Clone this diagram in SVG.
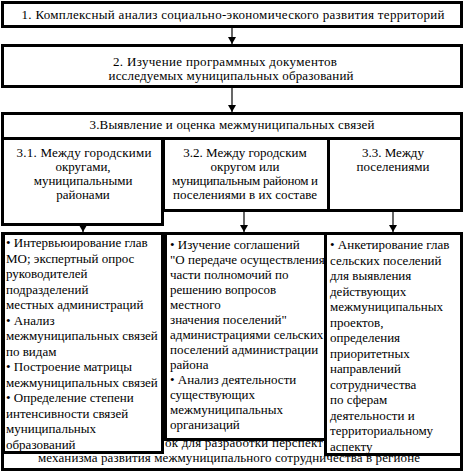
<svg xmlns="http://www.w3.org/2000/svg" width="464" height="473" viewBox="0 0 464 473">
<defs>
<marker id="ah" markerUnits="userSpaceOnUse" markerWidth="8" markerHeight="8" refX="7" refY="4" orient="auto">
<path d="M0,0 L7,4 L0,8 Z" fill="#000"/>
</marker>
<style>
.box{fill:#fff;stroke:#000;stroke-width:3}
.t{font-family:"Times New Roman","Liberation Serif",Tinos,"Noto Serif","DejaVu Serif",serif;font-size:13px;fill:#000}
.c{text-anchor:middle}
.ln{stroke:#000;stroke-width:1.2;fill:none;marker-end:url(#ah)}
</style>
</defs>
<rect width="464" height="473" fill="#fff"/>
<g id="node1">
<rect class="box" x="2.5" y="2.5" width="459" height="24"/>
<text class="t c" x="233" y="19" textLength="423" lengthAdjust="spacing">1. Комплексный анализ социально-экономического развития территорий</text>
</g>

<g id="node2">
<rect class="box" x="2.5" y="45.5" width="459" height="41"/>
<text class="t c" x="225" y="66" textLength="224" lengthAdjust="spacing">2. Изучение программных документов</text>
<text class="t c" x="231" y="80" textLength="245" lengthAdjust="spacing">исследуемых муниципальных образований</text>
</g>

<g id="node3">
<rect class="box" x="2.5" y="113.5" width="459" height="25"/>
<text class="t c" x="232" y="129" textLength="285" lengthAdjust="spacing">3.Выявление и оценка межмуниципальных связей</text>
</g>

<g id="node31">
<rect class="box" x="2.5" y="138.5" width="160" height="86"/>
<text class="t c" x="84" y="157" textLength="135" lengthAdjust="spacing">3.1. Между городскими</text>
<text class="t c" x="83" y="171">округами,</text>
<text class="t c" x="83" y="185">муниципальными</text>
<text class="t c" x="83" y="199">районами</text>
</g>

<g id="node32">
<rect class="box" x="163.5" y="138.5" width="165" height="72"/>
<text class="t c" x="245" y="157">3.2. Между городским</text>
<text class="t c" x="245" y="171">округом или</text>
<text class="t c" x="245" y="185" textLength="146" lengthAdjust="spacing">муниципальным районом и</text>
<text class="t c" x="245" y="199">поселениями в их составе</text>
</g>

<g id="node33">
<rect class="box" x="328.5" y="138.5" width="133" height="72"/>
<text class="t c" x="393" y="157">3.3. Между</text>
<text class="t c" x="393" y="171">поселениями</text>
</g>

<g id="node4">
<rect class="box" x="2.5" y="233.5" width="459" height="236"/>
<text class="t" x="165" y="447" textLength="158" lengthAdjust="spacing">ок для разработки перспект</text>
<text class="t c" x="229" y="462" textLength="382" lengthAdjust="spacing">механизма развития межмуниципального сотрудничества в регионе</text>
</g>

<g id="node41">
<rect class="box" x="3.5" y="233.5" width="159" height="219"/>
<text class="t" x="6" y="247">• Интервьюирование глав</text>
<text class="t" x="6" y="262.5">МО; экспертный опрос</text>
<text class="t" x="6" y="278">руководителей</text>
<text class="t" x="6" y="293.5">подразделений</text>
<text class="t" x="6" y="309">местных администраций</text>
<text class="t" x="6" y="324.5">• Анализ</text>
<text class="t" x="6" y="340">межмуниципальных связей</text>
<text class="t" x="6" y="355.5">по видам</text>
<text class="t" x="6" y="371">• Построение матрицы</text>
<text class="t" x="6" y="386.5">межмуниципальных связей</text>
<text class="t" x="6" y="402">• Определение степени</text>
<text class="t" x="6" y="417.5">интенсивности связей</text>
<text class="t" x="6" y="433">муниципальных</text>
<text class="t" x="6" y="448.5">образований</text>
</g>

<g id="node42">
<rect class="box" x="165.5" y="233.5" width="161" height="206"/>
<text class="t" x="170" y="249">• Изучение соглашений</text>
<text class="t" x="170" y="264">"О передаче осуществления</text>
<text class="t" x="170" y="279">части полномочий по</text>
<text class="t" x="170" y="294">решению вопросов</text>
<text class="t" x="170" y="309">местного</text>
<text class="t" x="170" y="324">значения поселений"</text>
<text class="t" x="170" y="339">администрациями сельских</text>
<text class="t" x="170" y="354">поселений администрации</text>
<text class="t" x="170" y="369">района</text>
<text class="t" x="170" y="384">• Анализ деятельности</text>
<text class="t" x="170" y="399">существующих</text>
<text class="t" x="170" y="414">межмуниципальных</text>
<text class="t" x="170" y="429">организаций</text>
</g>

<g id="node43">
<rect class="box" x="325.5" y="233.5" width="136" height="221"/>
<text class="t" x="330" y="249">• Анкетирование глав</text>
<text class="t" x="330" y="264.5">сельских поселений</text>
<text class="t" x="330" y="280">для выявления</text>
<text class="t" x="330" y="295.5">действующих</text>
<text class="t" x="330" y="311">межмуниципальных</text>
<text class="t" x="330" y="326.5">проектов,</text>
<text class="t" x="330" y="342">определения</text>
<text class="t" x="330" y="357.5">приоритетных</text>
<text class="t" x="330" y="373">направлений</text>
<text class="t" x="330" y="388.5">сотрудничества</text>
<text class="t" x="330" y="404">по сферам</text>
<text class="t" x="330" y="419.5">деятельности и</text>
<text class="t" x="330" y="435">территориальному</text>
<text class="t" x="330" y="450.5">аспекту</text>
</g>

<g id="connectors">
<line class="ln" x1="232" y1="26" x2="232" y2="44"/>
<line class="ln" x1="232" y1="87" x2="232" y2="112"/>
<line class="ln" x1="83" y1="226" x2="83" y2="232"/>
<line class="ln" x1="244" y1="211" x2="244" y2="232"/>
<line class="ln" x1="393" y1="211" x2="393" y2="232"/>
</g>
</svg>
